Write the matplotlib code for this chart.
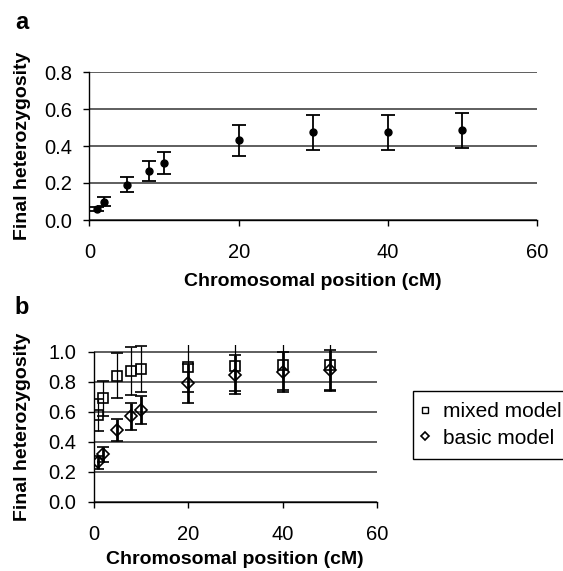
import numpy as np
import matplotlib
matplotlib.use("Agg")
from matplotlib import pyplot as plt
from matplotlib.lines import Line2D

plt.rcParams['font.family'] = ['Liberation Sans', 'DejaVu Sans']

# panel a
pos = [1, 2, 5, 8, 10, 20, 30, 40, 50]
het_a = [0.06, 0.10, 0.19, 0.265, 0.31, 0.43, 0.473, 0.473, 0.484]
err_a = [0.012, 0.023, 0.04, 0.053, 0.06, 0.086, 0.097, 0.097, 0.097]

# panel b
het_mixed = [0.578, 0.689, 0.839, 0.873, 0.884, 0.895, 0.908, 0.909, 0.911]
err_mixed = [0.105, 0.115, 0.15, 0.16, 0.155, 0.165, 0.168, 0.165, 0.165]
het_basic = [0.262, 0.316, 0.479, 0.569, 0.611, 0.79, 0.846, 0.866, 0.877]
err_basic = [0.045, 0.05, 0.075, 0.09, 0.095, 0.13, 0.13, 0.133, 0.136]

W, H = 563, 571
fig = plt.figure(figsize=(W / 100, H / 100), dpi=100)

def px(x0, y0, x1, y1):
    return [x0 / W, 1 - y1 / H, (x1 - x0) / W, (y1 - y0) / H]

ax = fig.add_axes(px(89.5, 72, 537, 220))
ax2 = fig.add_axes(px(93.5, 345, 377, 501.7))

def style(a, top, yticks):
    a.set_xlim(0, 60)
    a.set_ylim(0, top)
    a.set_xticks([0, 20, 40, 60])
    a.set_yticks(yticks)
    a.set_yticklabels(["%.1f" % v for v in yticks])
    a.spines['top'].set_visible(False)
    a.spines['right'].set_visible(False)
    a.spines['left'].set_bounds(0, yticks[-1])
    for s in ['left', 'bottom']:
        a.spines[s].set_linewidth(1)
        a.spines[s].set_color('black')
    a.yaxis.grid(True, color='#333333', lw=1.1)
    a.set_axisbelow(True)
    a.tick_params(axis='both', direction='out', length=4.5, width=1, labelsize=14.5)
    a.tick_params(axis='x', pad=12)
    a.tick_params(axis='y', pad=8)

style(ax, 0.8, [0.0, 0.2, 0.4, 0.6, 0.8])
style(ax2, 1.045, [0.0, 0.2, 0.4, 0.6, 0.8, 1.0])

ax.errorbar(pos, het_a, yerr=err_a, fmt='o', color='black', ms=5,
            elinewidth=1.3, capsize=5, capthick=1.3)

ax2.errorbar(pos, het_mixed, yerr=err_mixed, fmt='s', mfc='none', mec='black',
             ms=7, mew=1.2, ecolor='black', elinewidth=0.9, capsize=4.5, capthick=0.9)
ax2.errorbar(pos, het_basic, yerr=err_basic, fmt='D', mfc='none', mec='black',
             ms=6, mew=1.2, ecolor='black', elinewidth=2, capsize=4.5, capthick=2)

for a, ly in [(ax, -0.358), (ax2, -0.3146)]:
    a.set_xlabel('Chromosomal position (cM)', fontsize=14, fontweight='bold')
    a.xaxis.set_label_coords(0.5, ly)
    a.set_ylabel('Final heterozygosity', fontsize=14, fontweight='bold', va='center')

ax.yaxis.set_label_coords(-0.1508, 0.5)
ax2.yaxis.set_label_coords(-0.2522, 0.4787)

fig.text(21.5 / W, 1 - 22.5 / H, 'a', fontsize=17, fontweight='bold', ha='center', va='center')
fig.text(21.5 / W, 1 - 308 / H, 'b', fontsize=17, fontweight='bold', ha='center', va='center')

handles = [Line2D([], [], marker='s', ls='none', mfc='none', mec='black', ms=5, mew=1),
           Line2D([], [], marker='D', ls='none', mfc='none', mec='black', ms=4.5, mew=1.2)]
leg = fig.legend(handles, ['mixed model', 'basic model'], loc='lower left',
                 bbox_to_anchor=(412.7 / W, 1 - 459 / H), borderaxespad=0,
                 fontsize=15, fancybox=False, edgecolor='black', framealpha=1,
                 borderpad=0.54, labelspacing=0.36, handlelength=0.1, handletextpad=0.8)
leg.get_frame().set_linewidth(1)

fig.savefig('out.png', dpi=100)
